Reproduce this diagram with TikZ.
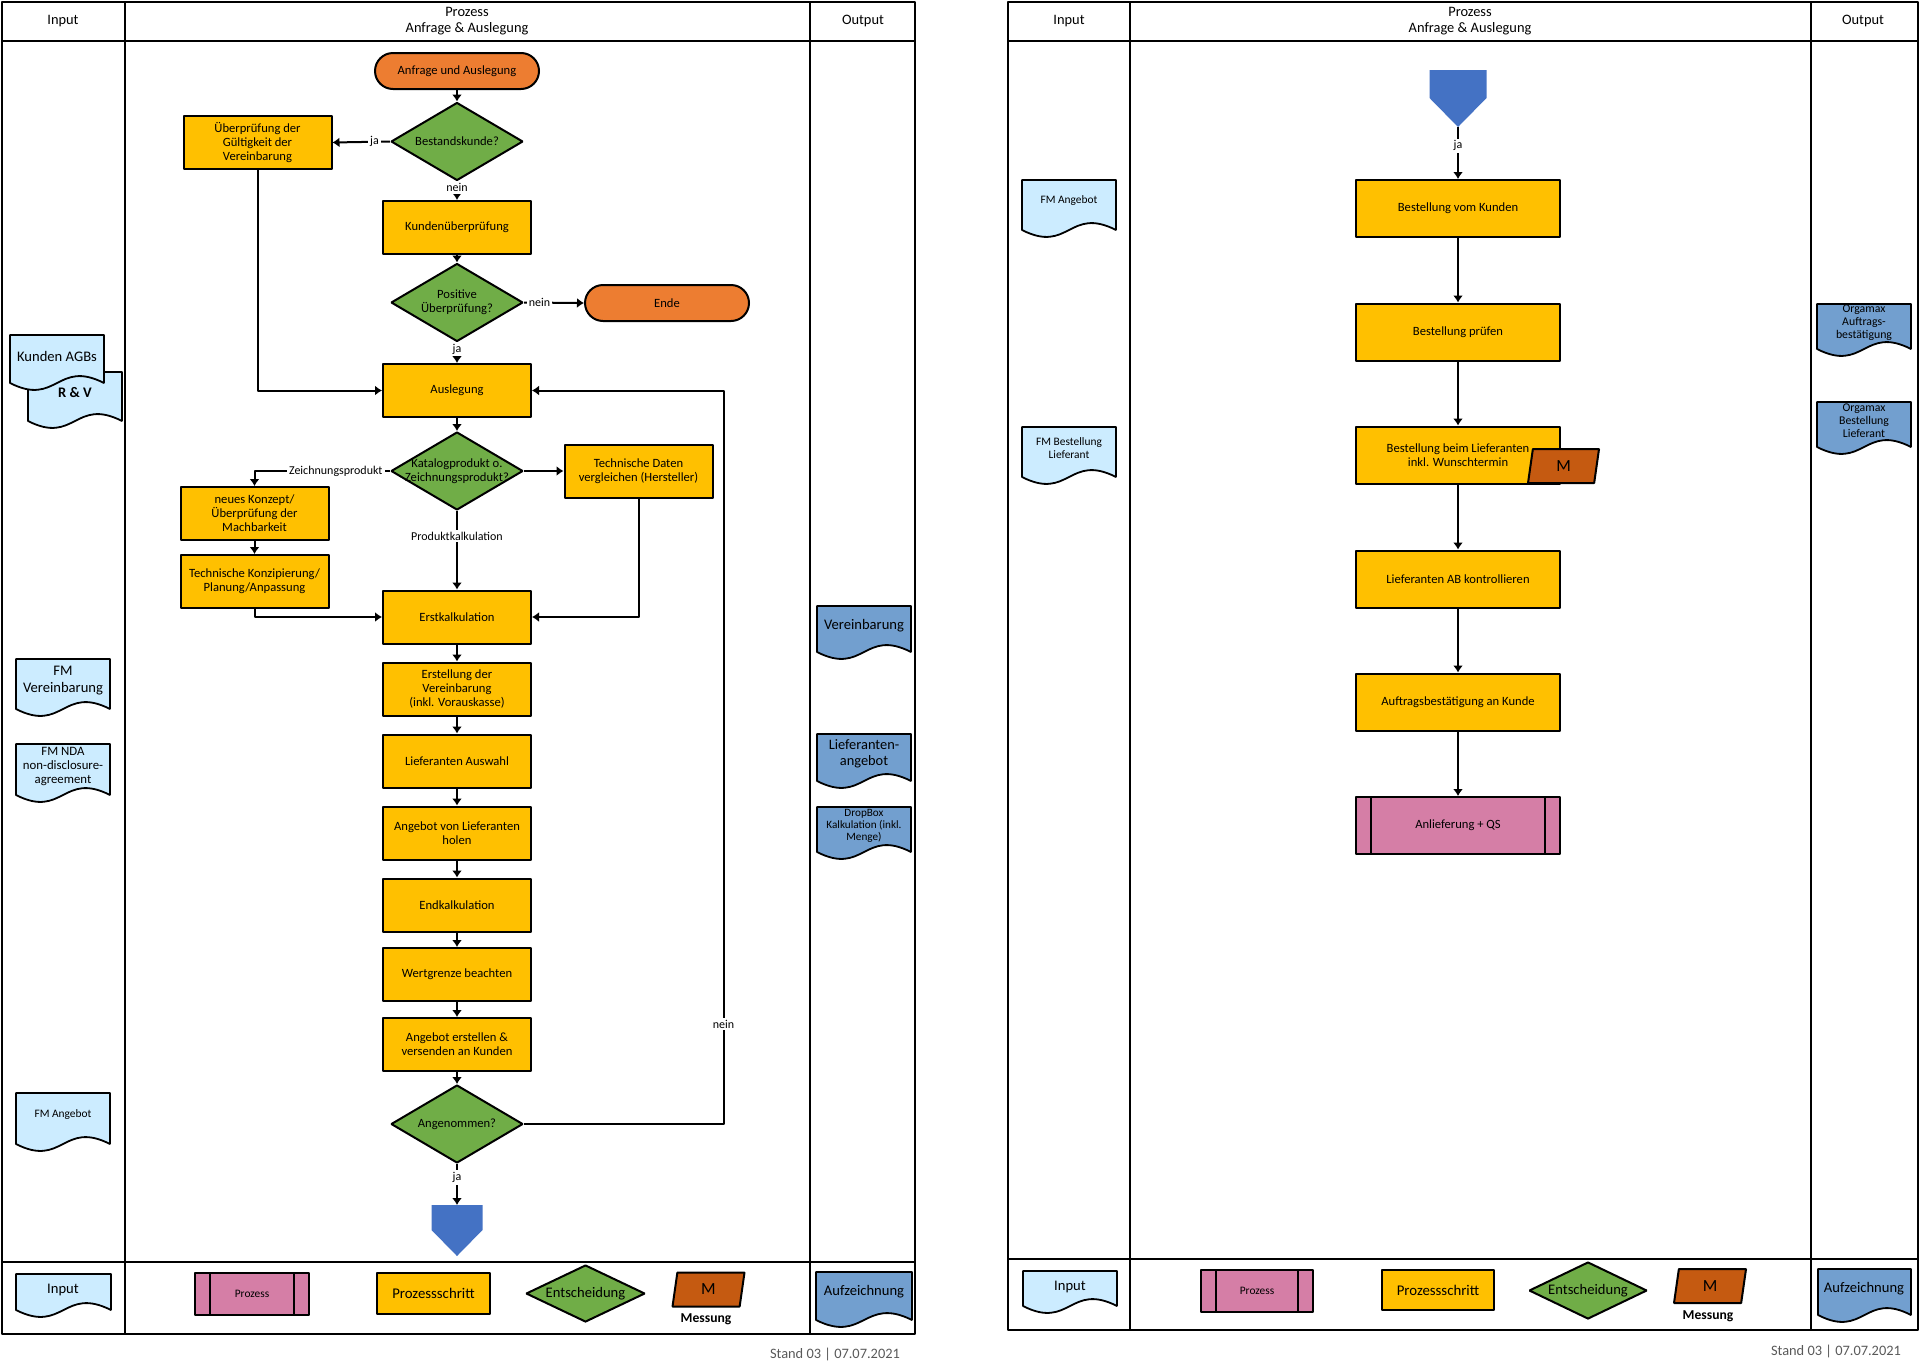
\documentclass[tikz,border=0pt]{standalone}
\usepackage{fontspec}
\setmainfont{Carlito}
\usetikzlibrary{shapes.geometric,arrows.meta}

\definecolor{stepfill}{HTML}{FFC000}
\definecolor{decfill}{HTML}{70AD47}
\definecolor{termfill}{HTML}{ED7D31}
\definecolor{subfill}{HTML}{D57EA6}
\definecolor{measfill}{HTML}{C55A11}
\definecolor{docinfill}{HTML}{CCECFF}
\definecolor{docoutfill}{HTML}{729FCF}
\definecolor{connfill}{HTML}{4472C4}
\definecolor{standgray}{HTML}{595959}

\newcommand{\boxfont}{\fontsize{6.3}{7}\selectfont}
\newcommand{\docbig}{\fontsize{7.3}{8.5}\selectfont}
\newcommand{\docsmall}{\fontsize{5.7}{6.4}\selectfont}
% document symbol: fill, x0, top, x1, bottom of the side edges
\newcommand{\docshape}[5]{%
  \filldraw[fill=#1,line width=0.9pt] (#2,#3) -- (#4,#3) -- (#4,#5)
    .. controls ({(#2+#4)/2},{#5-24}) and ({(#2+#4)/2},{#5+24}) .. (#2,#5) -- cycle;}

\tikzset{
  stepbox/.style={draw, fill=stepfill, line width=1pt, minimum width=74pt,
    minimum height=26.5pt, align=center, inner sep=1pt, font=\boxfont},
  decision/.style={draw, fill=decfill, line width=1pt, diamond,
    minimum width=66pt, minimum height=39pt, inner sep=0pt},
  dtext/.style={align=center, inner sep=0pt, font=\boxfont},
  terminal/.style={draw, fill=termfill, line width=1pt, rounded corners=9pt,
    minimum width=82pt, minimum height=18pt, font=\boxfont},
  subproc/.style={draw, fill=subfill, line width=1pt, align=center, font=\boxfont,
    path picture={
      \draw[line width=1pt] ([xshift=7.5pt]path picture bounding box.north west)
        -- ([xshift=7.5pt]path picture bounding box.south west);
      \draw[line width=1pt] ([xshift=-7.5pt]path picture bounding box.north east)
        -- ([xshift=-7.5pt]path picture bounding box.south east);}},
  measure/.style={draw, fill=measfill, line width=1pt, trapezium,
    trapezium left angle=66, trapezium right angle=114, trapezium stretches body,
    minimum width=36pt, minimum height=17pt, inner sep=0pt,
    font=\fontsize{8.5}{9}\selectfont},
  doctext/.style={align=center, inner sep=0pt},
  lbl/.style={fill=white, inner sep=1pt, font=\fontsize{6}{7}\selectfont},
  hdr/.style={align=center, font=\fontsize{7.2}{8}\selectfont},
  conn/.style={->, line width=1pt},
  frame/.style={line width=1pt},
}

\begin{document}
\begin{tikzpicture}[x=0.5pt,y=-0.5pt,>={Latex[length=3.5pt,width=5pt]},line join=bevel]
\useasboundingbox (0,0) rectangle (1920,1371);

  % Sheet 1: frame
  \draw[frame] (2,2) rectangle (915,1334);
  \draw[frame] (2,41) -- (915,41);
  \draw[frame] (2,1262) -- (915,1262);
  \draw[frame] (125,2) -- (125,1334);
  \draw[frame] (810,2) -- (810,1334);
  \node (hinl) at (63,21) [hdr] {Input};
  \node (hprl) at (467,21) [hdr] {Prozess\\Anfrage \& Auslegung};
  \node (houtl) at (863,21) [hdr] {Output};

  % Node: start
  \node (start) at (457,71) [terminal] {Anfrage und Auslegung};
  % Node: bestand
  \node (bestand) at (457,141.5) [decision, label={[dtext]center:Bestandskunde?}] {};
  % Node: chkvertrag
  \node (chkvertrag) at (257.5,142.5) [stepbox] {Überprüfung der\\Gültigkeit der\\Vereinbarung};
  % Node: kundenpr
  \node (kundenpr) at (457,227.5) [stepbox] {Kundenüberprüfung};
  % Node: positiv
  \node (positiv) at (457,302.5) [decision, label={[dtext]center:{Positive\\Überprüfung?}}] {};
  % Node: ende
  \node (ende) at (667,303) [terminal] {Ende};
  % Node: auslegung
  \node (auslegung) at (457,390.5) [stepbox] {Auslegung};
  % Node: katalog
  \node (katalog) at (457,471) [decision, label={[dtext]center:{Katalogprodukt o.\\Zeichnungsprodukt?}}] {};
  % Node: konzept
  \node (konzept) at (254.5,513.5) [stepbox] {neues Konzept/\\Überprüfung der\\Machbarkeit};
  % Node: konzipierung
  \node (konzipierung) at (254.5,581.5) [stepbox] {Technische Konzipierung/\\Planung/Anpassung};
  % Node: techdaten
  \node (techdaten) at (638.5,471) [stepbox] {Technische Daten\\vergleichen (Hersteller)};
  % Node: erstkalk
  \node (erstkalk) at (457,617) [stepbox] {Erstkalkulation};
  % Node: vereinb
  \node (vereinb) at (457,689) [stepbox] {Erstellung der\\Vereinbarung\\(inkl. Vorauskasse)};
  % Node: liefausw
  \node (liefausw) at (457,761) [stepbox] {Lieferanten Auswahl};
  % Node: angebotlief
  \node (angebotlief) at (457,833) [stepbox] {Angebot von Lieferanten\\holen};
  % Node: endkalk
  \node (endkalk) at (457,905) [stepbox] {Endkalkulation};
  % Node: wertgrenze
  \node (wertgrenze) at (457,974.5) [stepbox] {Wertgrenze beachten};
  % Node: angebotkunde
  \node (angebotkunde) at (457,1044.5) [stepbox] {Angebot erstellen \&\\versenden an Kunden};
  % Node: angenommen
  \node (angenommen) at (457,1124) [decision, label={[dtext]center:Angenommen?}] {};
  % Node: offin
  \fill[connfill] (431.5,1205) -- (482.5,1205) -- (482.5,1230) -- (457,1256) -- (431.5,1230) -- cycle;
  \coordinate (offin) at (457,1205);
  \coordinate (loopx) at (723.6,1124);

  % Edge: start -> bestand
  \draw[conn] (start) -- (bestand.north);
  % Edge: bestand -> chkvertrag
  \draw[conn] (bestand.west) -- node[lbl,pos=0.27] {ja} (chkvertrag.east);
  % Edge: bestand -> kundenpr
  \draw[conn] (bestand.south) -- node[lbl,pos=0.33] {nein} (kundenpr.north);
  % Edge: kundenpr -> positiv
  \draw[conn] (kundenpr) -- (positiv.north);
  % Edge: positiv -> ende
  \draw[conn] (positiv.east) -- node[lbl,pos=0.26] {nein} (ende.west);
  % Edge: positiv -> auslegung
  \draw[conn] (positiv.south) -- node[lbl,pos=0.32] {ja} (auslegung.north);
  % Edge: chkvertrag -> auslegung
  \draw[conn] (chkvertrag.south) |- (auslegung.west);
  % Edge: auslegung -> katalog
  \draw[conn] (auslegung) -- (katalog.north);
  % Edge: katalog -> konzept
  \draw[conn] (katalog.west) -| node[lbl,pos=0.2] {Zeichnungsprodukt} (konzept.north);
  % Edge: katalog -> techdaten
  \draw[conn] (katalog.east) -- (techdaten.west);
  % Edge: katalog -> erstkalk
  \draw[conn] (katalog.south) -- node[lbl,pos=0.32] {Produktkalkulation} (erstkalk.north);
  % Edge: konzept -> konzipierung
  \draw[conn] (konzept) -- (konzipierung);
  % Edge: konzipierung -> erstkalk
  \draw[conn] (konzipierung.south) |- (erstkalk.west);
  % Edge: techdaten -> erstkalk
  \draw[conn] (techdaten.south) |- (erstkalk.east);
  % Edge: chain erstkalk -> angenommen
  \draw[conn] (erstkalk) -- (vereinb);
  \draw[conn] (vereinb) -- (liefausw);
  \draw[conn] (liefausw) -- (angebotlief);
  \draw[conn] (angebotlief) -- (endkalk);
  \draw[conn] (endkalk) -- (wertgrenze);
  \draw[conn] (wertgrenze) -- (angebotkunde);
  \draw[conn] (angebotkunde) -- (angenommen.north);
  % Edge: angenommen -> auslegung
  \draw[conn] (angenommen.east) -- (loopx) |- node[lbl,pos=0.068] {nein} (auslegung.east);
  % Edge: angenommen -> offin
  \draw[conn] (angenommen.south) -- node[lbl,pos=0.33] {ja} (offin);

  % Inputs / outputs sheet 1
  \docshape{docinfill}{28}{372}{122}{421}
  \node (inrv) at (75,393) [doctext, font=\docbig\bfseries] {R \& V};
  \docshape{docinfill}{10}{335}{104}{383}
  \node (inagb) at (57,356) [doctext, font=\docbig] {Kunden AGBs};
  \docshape{docinfill}{16}{659}{110}{709}
  \node (infmv) at (63,680.5) [doctext, font=\docbig] {FM\\Vereinbarung};
  \docshape{docinfill}{16}{744}{110}{795}
  \node (infmnda) at (63,766) [doctext, font=\fontsize{6.4}{7}\selectfont] {FM NDA\\non-disclosure-\\agreement};
  \docshape{docinfill}{16}{1093}{110}{1144}
  \node (infmang) at (63,1115) [doctext, font=\docsmall] {FM Angebot};
  \docshape{docoutfill}{817}{606}{911}{652}
  \node (outvereinb) at (864,626) [doctext, font=\docbig] {Vereinbarung};
  \docshape{docoutfill}{817}{734}{911}{781}
  \node (outliefang) at (864,754) [doctext, font=\fontsize{7.2}{8}\selectfont] {Lieferanten-\\angebot};
  \docshape{docoutfill}{817}{807}{911}{852}
  \node (outdropbox) at (864,826) [doctext, font=\fontsize{5.6}{6}\selectfont] {DropBox\\Kalkulation (inkl.\\Menge)};

  % Legend sheet 1
  \docshape{docinfill}{16}{1274}{111}{1310}
  \node (leginl) at (63,1290) [doctext, font=\docbig] {Input};
  \node (legprozl) at (252,1294) [subproc, minimum width=57pt, minimum height=21pt, font=\fontsize{5.7}{7}\selectfont] {Prozess};
  \node (legschrl) at (433.5,1293.5) [stepbox, minimum width=56.5pt, minimum height=20.5pt, font=\fontsize{7.4}{8}\selectfont] {Prozessschritt};
  \node (legentl) at (585.5,1293.5) [decision, minimum width=59.5pt, minimum height=28.5pt, label={[dtext,font=\docbig]center:Entscheidung}] {};
  \node (legmessl) at (708.5,1289.5) [measure] {M};
  \node (legmesstl) at (706,1319) [font=\fontsize{6.8}{8}\selectfont\bfseries] {Messung};
  \docshape{docoutfill}{816}{1272}{912}{1320}
  \node (legaufzl) at (864,1292) [doctext, font=\docbig] {Aufzeichnung};
  \node (standl) at (907,1354) [anchor=east, text=standgray, font=\fontsize{7.2}{8}\selectfont] {Stand 03 | 07.07.2021};

  % Sheet 2: frame
  \draw[frame] (1008,2) rectangle (1918,1330);
  \draw[frame] (1008,41) -- (1918,41);
  \draw[frame] (1008,1259) -- (1918,1259);
  \draw[frame] (1130,2) -- (1130,1330);
  \draw[frame] (1810.5,2) -- (1810.5,1330);
  \node (hinr) at (1069,21) [hdr] {Input};
  \node (hprr) at (1470,21) [hdr] {Prozess\\Anfrage \& Auslegung};
  \node (houtr) at (1863,21) [hdr] {Output};

  % Node: offout
  \fill[connfill] (1429.5,70) -- (1486.5,70) -- (1486.5,98) -- (1458,127) -- (1429.5,98) -- cycle;
  \coordinate (offout) at (1458,127);
  % Node: bestkunde
  \node (bestkunde) at (1458,208.5) [stepbox, minimum width=102pt, minimum height=28.5pt] {Bestellung vom Kunden};
  % Node: bestpr
  \node (bestpr) at (1458,332) [stepbox, minimum width=102pt, minimum height=28.5pt] {Bestellung prüfen};
  % Node: bestlief
  \node (bestlief) at (1458,455) [stepbox, minimum width=102pt, minimum height=28.5pt] {Bestellung beim Lieferanten\\inkl. Wunschtermin};
  % Node: messr
  \node (messr) at (1563.5,466) [measure, minimum width=35.5pt] {M};
  % Node: liefab
  \node (liefab) at (1458,579) [stepbox, minimum width=102pt, minimum height=28.5pt] {Lieferanten AB kontrollieren};
  % Node: abkunde
  \node (abkunde) at (1458,702) [stepbox, minimum width=102pt, minimum height=28.5pt] {Auftragsbestätigung an Kunde};
  % Node: anlief
  \node (anlief) at (1458,825.5) [subproc, minimum width=102pt, minimum height=28.5pt] {Anlieferung + QS};

  % Edge: offout -> bestkunde
  \draw[conn] (offout) -- node[lbl,pos=0.36] {ja} (bestkunde.north);
  % Edge: chain bestkunde -> anlief
  \draw[conn] (bestkunde) -- (bestpr);
  \draw[conn] (bestpr) -- (bestlief);
  \draw[conn] (bestlief) -- (liefab);
  \draw[conn] (liefab) -- (abkunde);
  \draw[conn] (abkunde) -- (anlief);

  % Inputs / outputs sheet 2
  \docshape{docinfill}{1022}{180}{1116}{230}
  \node (infmangr) at (1069,201) [doctext, font=\docsmall] {FM Angebot};
  \docshape{docinfill}{1022}{427}{1116}{477}
  \node (infmbest) at (1069,448) [doctext, font=\docsmall] {FM Bestellung\\Lieferant};
  \docshape{docoutfill}{1817}{304}{1911}{349}
  \node (outorgab) at (1864,323) [doctext, font=\fontsize{5.9}{6.5}\selectfont] {Orgamax\\Auftrags-\\bestätigung};
  \docshape{docoutfill}{1817}{402}{1911}{447}
  \node (outorgbest) at (1864,421) [doctext, font=\fontsize{5.9}{6.5}\selectfont] {Orgamax\\Bestellung\\Lieferant};

  % Legend sheet 2
  \docshape{docinfill}{1023}{1271}{1117}{1306}
  \node (leginr) at (1070,1287) [doctext, font=\docbig] {Input};
  \node (legprozr) at (1257,1291) [subproc, minimum width=56pt, minimum height=21pt, font=\fontsize{5.7}{7}\selectfont] {Prozess};
  \node (legschrr) at (1438,1290) [stepbox, minimum width=56pt, minimum height=20pt, font=\fontsize{7.4}{8}\selectfont] {Prozessschritt};
  \node (legentr) at (1588,1290.5) [decision, minimum width=59pt, minimum height=28.5pt, label={[dtext,font=\docbig]center:Entscheidung}] {};
  \node (legmessr) at (1710,1286) [measure] {M};
  \node (legmesstr) at (1708,1316) [font=\fontsize{6.8}{8}\selectfont\bfseries] {Messung};
  \docshape{docoutfill}{1818}{1269}{1911}{1315}
  \node (legaufzr) at (1864,1289) [doctext, font=\docbig] {Aufzeichnung};
  \node (standr) at (1908,1351) [anchor=east, text=standgray, font=\fontsize{7.2}{8}\selectfont] {Stand 03 | 07.07.2021};
\end{tikzpicture}
\end{document}
